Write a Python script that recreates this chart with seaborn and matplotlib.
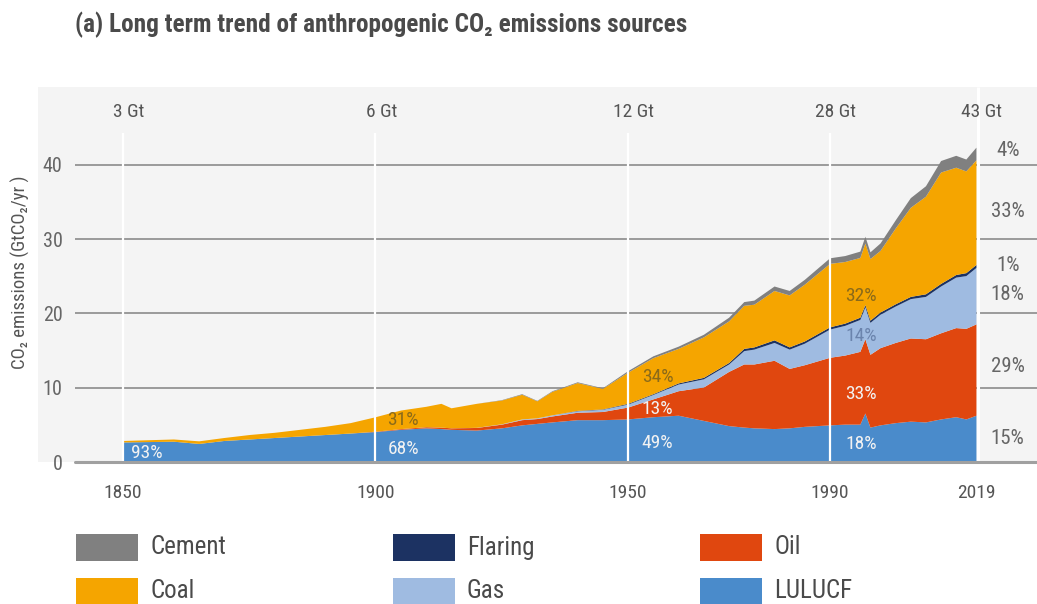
import matplotlib
matplotlib.use("Agg")
import matplotlib.pyplot as plt
from matplotlib import font_manager
from matplotlib.patches import Rectangle
import seaborn as sns
import pandas as pd

# ---------------- data (GtCO2/yr) ----------------
years = [1850, 1855, 1860, 1865, 1870, 1875, 1880, 1885, 1890, 1895,
         1900, 1905, 1910, 1913, 1915, 1920, 1925, 1929, 1932, 1935,
         1940, 1945, 1950, 1955, 1960, 1965, 1970, 1973, 1975, 1979,
         1982, 1985, 1990, 1993, 1996, 1997, 1998, 2000, 2003, 2006,
         2009, 2012, 2015, 2017, 2019]

lulucf = [2.7, 2.75, 2.8, 2.5, 2.9, 3.1, 3.3, 3.5, 3.7, 3.9,
          4.1, 4.4, 4.6, 4.5, 4.4, 4.3, 4.6, 5.0, 5.2, 5.4,
          5.7, 5.7, 5.8, 6.1, 6.3, 5.6, 4.9, 4.7, 4.6, 4.5,
          4.6, 4.8, 5.0, 5.1, 5.1, 6.6, 4.7, 5.0, 5.3, 5.5,
          5.4, 5.8, 6.1, 5.8, 6.3]

oil = [0, 0, 0, 0, 0, 0, 0, 0, 0, 0,
       0.05, 0.1, 0.15, 0.2, 0.2, 0.35, 0.5, 0.7, 0.65, 0.8,
       1.0, 1.1, 1.6, 2.4, 3.3, 4.5, 7.3, 8.5, 8.6, 9.2,
       8.0, 8.3, 9.1, 9.3, 9.8, 10.0, 9.8, 10.4, 10.8, 11.2,
       11.2, 11.6, 12.0, 12.2, 12.3]

gas = [0, 0, 0, 0, 0, 0, 0, 0, 0, 0,
       0, 0, 0, 0, 0, 0.02, 0.05, 0.1, 0.1, 0.15,
       0.2, 0.3, 0.4, 0.6, 0.9, 1.1, 1.0, 1.8, 2.0, 2.4,
       2.6, 2.9, 3.8, 4.0, 4.3, 4.3, 4.3, 4.5, 4.9, 5.3,
       5.7, 6.3, 6.8, 7.1, 7.6]

flaring = [0, 0, 0, 0, 0, 0, 0, 0, 0, 0,
           0, 0, 0, 0, 0, 0, 0, 0, 0, 0,
           0.05, 0.05, 0.1, 0.1, 0.15, 0.2, 0.2, 0.3, 0.3, 0.35,
           0.3, 0.3, 0.3, 0.3, 0.3, 0.3, 0.3, 0.3, 0.3, 0.3,
           0.35, 0.35, 0.35, 0.4, 0.4]

coal = [0.2, 0.25, 0.3, 0.35, 0.4, 0.6, 0.7, 0.9, 1.1, 1.4,
        1.95, 2.5, 2.75, 3.2, 2.7, 3.23, 3.2, 3.32, 2.29, 3.17,
        3.75, 2.77, 4.2, 4.85, 4.65, 5.45, 5.6, 5.8, 5.75, 6.65,
        7.0, 7.65, 8.55, 8.3, 8.05, 8.3, 8.3, 8.3, 10.2, 12.0,
        13.15, 15.0, 14.45, 13.7, 14.1]

cement = [0, 0, 0, 0, 0, 0, 0, 0, 0, 0,
          0, 0, 0, 0, 0, 0, 0.05, 0.08, 0.06, 0.08,
          0.1, 0.08, 0.2, 0.25, 0.3, 0.35, 0.5, 0.5, 0.55, 0.6,
          0.6, 0.65, 0.75, 0.8, 0.85, 0.9, 0.9, 1.0, 1.1, 1.3,
          1.4, 1.55, 1.6, 1.6, 1.7]

series_names = ["LULUCF", "Oil", "Gas", "Flaring", "Coal", "Cement"]
series_colors = ["#4a8bcb", "#e0470f", "#9fbbe1", "#1c3262", "#f5a500", "#808080"]

marker_years = [1850, 1900, 1950, 1990, 2019]
marker_totals = ["3 Gt", "6 Gt", "12 Gt", "28 Gt", "43 Gt"]
xtick_labels = ["1850", "1900", "1950", "1990", "2019"]
yticks = [0, 10, 20, 30, 40]

# shares written inside the chart: (year, value, text, kind)
inner_labels = [
    (1851.6, 1.15, "93%", "w"),
    (1902.4, 1.7, "68%", "w"), (1902.4, 5.6, "31%", "c"),
    (1952.8, 2.6, "49%", "w"), (1952.8, 7.2, "13%", "w"), (1952.8, 11.4, "34%", "c"),
    (1993.1, 2.4, "18%", "w"), (1993.1, 9.2, "33%", "w"), (1993.1, 17.0, "14%", "g"),
    (1993.1, 22.3, "32%", "c"),
]
# 2019 shares on the right: (value, text)
right_labels = [(42.0, "4%"), (33.8, "33%"), (26.4, "1%"), (22.5, "18%"),
                (12.9, "29%"), (3.2, "15%")]

legend_order = [("Cement", "#808080"), ("Flaring", "#1c3262"), ("Oil", "#e0470f"),
                ("Coal", "#f5a500"), ("Gas", "#9fbbe1"), ("LULUCF", "#4a8bcb")]

# ---------------- style ----------------
sns.set_style("white")
avail = {f.name for f in font_manager.fontManager.ttflist}
fam = [f for f in ["Liberation Sans Narrow", "Roboto Condensed", "Open Sans Condensed",
                   "Noto Sans Condensed", "Open Sans", "DejaVu Sans"] if f in avail]
fam.append("DejaVu Sans")
plt.rcParams["font.family"] = fam

W, H = 1037, 604
fig = plt.figure(figsize=(W / 100, H / 100), dpi=100, facecolor="white")

def fx(px):
    return px / W

def fy(py):
    return 1 - py / H

# light grey panel (behind the axes)
fig.patches.append(Rectangle((fx(38), fy(462)), fx(W) - fx(38), fy(87) - fy(462),
                             transform=fig.transFigure, facecolor="#f4f4f4",
                             edgecolor="none", zorder=-10))

ax = fig.add_axes([fx(75), fy(462), 1 - fx(75), fy(87) - fy(462)])
ax.set_zorder(1)
ax.patch.set_alpha(0)
ax.set_xlim(1840.5, 2031.1)
ax.set_ylim(0, 50.5)

df = pd.DataFrame({"year": years, "LULUCF": lulucf, "Oil": oil, "Gas": gas,
                   "Flaring": flaring, "Coal": coal, "Cement": cement})

# grid lines
ax.hlines([10, 20, 30, 40], 1840.5, 2031.1, color="#9a9a9a", lw=1.4, zorder=1)

ax.stackplot(df["year"], *[df[n] for n in series_names], colors=series_colors,
             linewidth=0, zorder=2)

# white separators
ax.vlines(marker_years[:-1], 0, 44.3, color="white", lw=1.6, zorder=3)
ax.vlines([2019.4], 0, 50.5, color="white", lw=2.2, zorder=3)

# zero axis
ax.axhline(0, color="#a0a0a0", lw=2.2, zorder=4, clip_on=False)

for s in ax.spines.values():
    s.set_visible(False)

ax.set_yticks(yticks)
ax.set_yticklabels([str(v) for v in yticks])
ax.set_xticks(marker_years)
ax.set_xticklabels(xtick_labels)
ax.tick_params(axis="y", length=0, pad=9, labelsize=14.5, labelcolor="#666666")
ax.tick_params(axis="x", length=5, width=1.2, color="#999999", pad=11,
               labelsize=14, labelcolor="#555555", direction="out")

# totals at the top
for yr, t in zip(marker_years, marker_totals):
    ax.text(yr + 1.2, 47.1, t, ha="center", va="center", fontsize=14,
            color="#555555", zorder=5)

colmap = {"w": "#f2f2f2", "c": "#8a6a1a", "g": "#6b84ad"}
for yr, v, t, k in inner_labels:
    ax.text(yr, v, t, ha="left", va="center", fontsize=14, color=colmap[k],
            zorder=5)

for v, t in right_labels:
    ax.text(2025.3, v, t, ha="center", va="center", fontsize=15,
            color="#666666", zorder=5)

# title and axis label
fig.text(fx(75), fy(25), "(a) Long term trend of anthropogenic CO\u2082 emissions sources",
         ha="left", va="center", fontsize=18.2, fontweight="bold", color="#4a4a4a")
fig.text(fx(20), fy(272), "CO\u2082 emissions (GtCO\u2082/yr )", rotation=90,
         ha="center", va="center", fontsize=13.5, color="#555555")

# legend
legend_cols = [76, 393, 700]
legend_rows = [(534, 561), (578, 604)]
for i, (name, col) in enumerate(legend_order):
    c = i % 3
    r = i // 3
    x0 = legend_cols[c]
    y0, y1 = legend_rows[r]
    fig.patches.append(Rectangle((fx(x0), fy(y1)), fx(62), fy(y0) - fy(y1),
                                 transform=fig.transFigure, facecolor=col,
                                 edgecolor="none"))
    fig.text(fx(x0 + 74), fy((y0 + y1) / 2), name, ha="left", va="center",
             fontsize=18, color="#4a4a4a")

fig.savefig("out.png", dpi=100, facecolor="white")
